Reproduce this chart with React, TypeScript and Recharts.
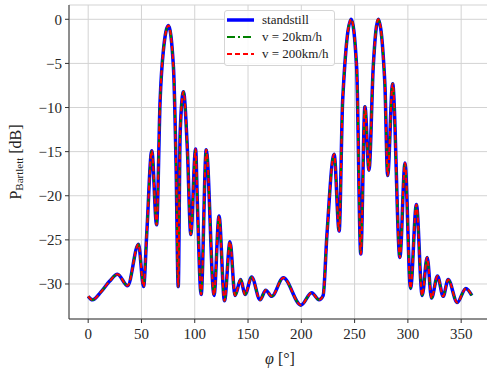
import React from 'react';
import {
  LineChart,
  Line,
  XAxis,
  YAxis,
  CartesianGrid,
  Legend
} from 'recharts';

// azimuth angle in degrees
const phiDeg = [
  0, 4, 12, 20, 27.5, 37, 47.2, 52, 55, 59.7,
  64.2, 67.5, 70.6, 75.3, 80, 82.5, 84.5, 86.3, 89.4, 93.1,
  96.3, 100.8, 102.5, 106, 110.8, 118.1, 122.8, 127.9, 133.1, 137.8,
  143.1, 147.2, 153.4, 161.3, 166.6, 172.2, 183.1, 199.7, 209.7, 216.6,
  220.5, 224, 230.8, 235.5, 238.8, 246.8, 251.9, 255.8, 259.7, 263.5,
  267.5, 272.2, 278.4, 281, 285.7, 292.5, 297.3, 302.5, 308, 313.4,
  318.1, 322.2, 327.8, 333.1, 337.8, 346.3, 354.4, 360
];

// Bartlett spectrum in dB (the three cases lie on top of each other)
const pStandstill = [
  -31.4, -31.8, -30.9, -29.7, -28.9, -30.2, -25.5, -30.3, -24.2, -14.9,
  -23.3, -9.2, -3.5, -0.7, -5.4, -16.7, -30.3, -12.9, -8.2, -14.8,
  -24.4, -14.7, -21, -31.2, -14.8, -31.3, -22.3, -31.9, -25.2, -31.3,
  -29.5, -31.2, -29.2, -31.8, -30.7, -31.4, -29.3, -32.4, -31.0, -31.8,
  -31.3, -24.5, -15.3, -24.0, -9.2, 0, -5.4, -26.6, -9.9, -17.1,
  -5.4, 0, -7.3, -17.7, -7.3, -27.0, -16.3, -30.5, -21.0, -31.3,
  -27.0, -31.6, -29.1, -31.4, -29.5, -32.1, -30.5, -31.3
];
const pV20 = [...pStandstill];
const pV200 = [...pStandstill];

const xTicks = [0, 50, 100, 150, 200, 250, 300, 350];
const yTicks = [-30, -25, -20, -15, -10, -5, 0];

const X_DOMAIN: [number, number] = [-18, 378];
const Y_DOMAIN: [number, number] = [-33.97, 1.62];

const data = phiDeg.map((phi, i) => ({
  phi,
  standstill: pStandstill[i],
  v20: pV20[i],
  v200: pV200[i]
}));

const FONT = '"Liberation Serif", "DejaVu Serif", serif';

const legendItems = [
  { label: 'standstill', color: '#0000ff', width: 3.5, dash: undefined },
  { label: 'v = 20km/h', color: '#008000', width: 2.2, dash: '8 3 2 3' },
  { label: 'v = 200km/h', color: '#ff0000', width: 2, dash: '5 3' }
];

const LegendBox = () => (
  <div
    style={{
      width: 111,
      height: 56,
      boxSizing: 'border-box',
      border: '1px solid #d5d5d5',
      borderRadius: 3,
      background: 'rgba(255,255,255,0.85)',
      fontFamily: FONT,
      fontSize: 13,
      color: '#222',
      paddingLeft: 1
    }}
  >
    {legendItems.map((it) => (
      <div key={it.label} style={{ display: 'flex', alignItems: 'center', height: 17 }}>
        <svg width={32} height={10}>
          <line x1={1} x2={28} y1={5} y2={5} stroke={it.color} strokeWidth={it.width} strokeDasharray={it.dash} />
        </svg>
        <span style={{ marginLeft: 4, whiteSpace: 'nowrap' }}>{it.label}</span>
      </div>
    ))}
  </div>
);

const fmtY = (v: number) => (v < 0 ? '\u2212' + Math.abs(v) : String(v));

const tickStyle = { fontFamily: FONT, fontSize: 15, fill: '#262626' };

export default function App() {
  return (
    <div style={{ position: 'absolute', left: 0, top: 0, width: 487, height: 371, overflow: 'hidden', background: '#fff' }}>
      <LineChart width={500} height={371} data={data} margin={{ top: 5, right: 9, bottom: 0, left: 0 }}>
        <CartesianGrid stroke="#d3d3d3" strokeWidth={1} />
        <XAxis
          dataKey="phi"
          type="number"
          domain={X_DOMAIN}
          ticks={xTicks}
          allowDataOverflow
          height={52}
          tickSize={4}
          tickMargin={5}
          stroke="#333"
          tick={tickStyle}
          label={({ viewBox }: any) => (
            <text
              x={viewBox.x + viewBox.width / 2}
              y={viewBox.y + 39}
              textAnchor="middle"
              dominantBaseline="central"
              fontFamily={FONT}
              fontSize={16}
              fill="#222"
            >
              <tspan fontStyle="italic">φ</tspan> [°]
            </text>
          )}
        />
        {/* top spine only */}
        <XAxis
          xAxisId="top"
          orientation="top"
          dataKey="phi"
          type="number"
          domain={X_DOMAIN}
          allowDataOverflow
          height={0}
          tick={false}
          tickLine={false}
          stroke="#333"
        />
        <YAxis
          type="number"
          domain={Y_DOMAIN}
          ticks={yTicks}
          allowDataOverflow
          width={69}
          tickSize={4}
          tickMargin={3}
          stroke="#333"
          tick={tickStyle}
          tickFormatter={fmtY}
          label={({ viewBox }: any) => {
            const cx = 15;
            const cy = viewBox.y + viewBox.height / 2;
            return (
              <text
                x={cx}
                y={cy}
                transform={`rotate(-90, ${cx}, ${cy})`}
                textAnchor="middle"
                dominantBaseline="central"
                fontFamily={FONT}
                fontSize={16}
                fill="#222"
              >
                P<tspan dy={4} fontSize={11}>Bartlett</tspan>
                <tspan dy={-4}> [dB]</tspan>
              </text>
            );
          }}
        />
        <Legend
          layout="horizontal"
          verticalAlign="middle"
          align="center"
          content={() => <LegendBox />}
          wrapperStyle={{ left: 224, top: 10, width: 111, height: 56 }}
        />
        <Line
          type="monotone"
          dataKey="standstill"
          stroke="#0000ff"
          strokeWidth={3.5}
          dot={false}
          isAnimationActive={false}
        />
        <Line
          type="monotone"
          dataKey="v20"
          stroke="#008000"
          strokeWidth={2.2}
          strokeDasharray="8 3 2 3"
          dot={false}
          isAnimationActive={false}
        />
        <Line
          type="monotone"
          dataKey="v200"
          stroke="#ff0000"
          strokeWidth={2}
          strokeDasharray="5 3"
          dot={false}
          isAnimationActive={false}
        />
      </LineChart>
    </div>
  );
}
